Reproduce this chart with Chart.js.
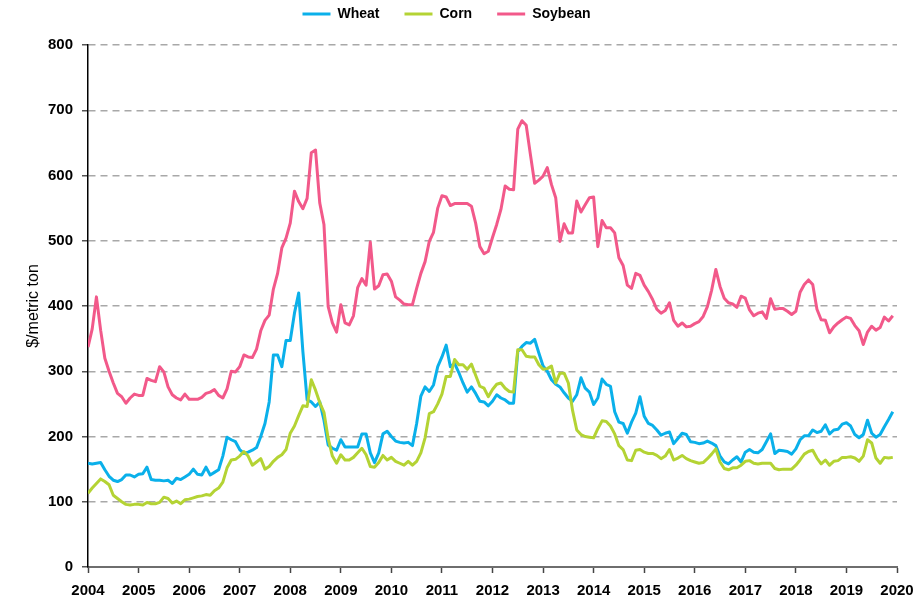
<!DOCTYPE html>
<html>
<head>
<meta charset="utf-8">
<script src="https://cdn.jsdelivr.net/npm/chart.js@4.4.1/dist/chart.umd.min.js"></script>
<style>
html,body{margin:0;padding:0;background:#fff;overflow:hidden}
#wrap{width:918px;height:601px;position:relative}
</style>
</head>
<body>
<div id="wrap"><canvas id="c" width="918" height="601"></canvas></div>
<script>
// ---- data (monthly, Jan 2004 - Dec 2019), $/metric ton ----
const startYear = 2004;
const endYear = 2020;
const seriesNames = ["Wheat", "Corn", "Soybean"];
const yTicks = [0, 100, 200, 300, 400, 500, 600, 700, 800];

const wheat = [
  159,158,159,160,149,139,133,131,134,141,141,138,
  142,143,153,134,133,133,132,133,128,136,134,138,
  142,150,142,141,153,141,145,149,170,199,195,192,
  180,174,176,179,183,200,220,253,325,325,307,347,
  347,389,420,330,256,253,246,253,225,187,182,179,
  195,184,184,184,184,204,204,175,160,175,204,208,
  200,193,191,190,191,186,220,262,276,269,279,307,
  322,340,307,312,298,282,268,276,266,254,253,247,
  254,264,259,256,251,251,330,338,344,343,349,328,
  308,300,287,280,276,267,259,254,264,290,274,268,
  249,259,288,280,277,238,222,220,205,222,236,261,
  231,220,217,210,202,205,207,189,197,205,203,192,
  191,189,190,193,190,186,170,161,158,164,169,161,
  176,180,176,175,180,192,204,174,179,178,177,173,
  181,195,201,201,210,206,208,218,204,210,211,219,
  221,216,203,198,203,225,205,199,203,215,226,238
];

const corn = [
  113,121,128,135,131,126,110,105,100,96,95,96,
  96,95,99,97,97,99,107,105,98,101,97,103,
  104,106,108,109,111,110,117,121,130,152,164,165,
  170,177,170,156,161,166,150,154,162,168,172,180,
  205,216,232,247,246,287,271,252,237,197,170,159,
  172,164,164,168,175,182,172,154,153,160,171,164,
  168,162,159,156,162,156,162,175,198,235,238,250,
  265,292,292,318,310,310,303,311,294,277,274,261,
  272,280,282,274,269,268,333,333,323,322,322,310,
  303,304,308,282,297,297,282,240,210,203,200,199,
  198,212,224,223,216,204,186,180,164,163,179,180,
  176,174,174,171,166,170,180,164,167,171,166,163,
  161,159,160,166,173,181,161,151,149,152,152,156,
  162,163,159,158,159,159,159,151,149,150,150,150,
  156,164,173,177,179,167,158,164,156,162,163,168,
  168,169,167,162,170,195,190,167,159,168,167,168
];

const soybean = [
  337,365,414,363,320,300,282,266,261,251,259,265,
  263,263,289,286,284,307,299,276,264,259,256,265,
  257,257,257,260,266,268,272,263,259,273,300,299,
  307,325,322,321,334,362,378,386,426,450,489,504,
  527,576,560,549,565,635,639,558,525,399,374,360,
  402,374,371,385,428,442,432,498,426,431,448,449,
  438,414,409,403,402,402,427,450,468,499,513,550,
  569,567,554,557,557,557,557,553,527,491,480,484,
  505,525,548,584,579,578,671,684,677,632,588,593,
  599,612,586,566,499,526,512,512,561,544,555,566,
  567,491,531,520,520,512,474,462,432,427,450,447,
  432,422,410,395,389,393,405,378,369,374,368,369,
  373,376,384,399,424,456,430,412,405,403,398,415,
  412,394,385,389,391,381,411,395,396,396,392,387,
  392,421,433,440,433,395,379,378,359,368,374,379,
  383,381,370,362,341,360,369,363,367,383,377,385
];

// month categories "YYYY-MM"
const months = [];
for (let y = startYear; y < endYear; y++) {
  for (let m = 1; m <= 12; m++) months.push(y + "-" + String(m).padStart(2, "0"));
}
const monthToX = s => Number(s.slice(0, 4)) + (Number(s.slice(5, 7)) - 1) / 12;
const toPoints = arr => arr.map((v, i) => ({ x: monthToX(months[i]), y: v }));

const COLORS = { Wheat: "#0ab0ea", Corn: "#b4d334", Soybean: "#f2598a" };
const FONT = "'Liberation Sans', Arial, sans-serif";

const CHART_TOP = 45;
const legendFix = {
  id: "legendFix",
  beforeUpdate(chart) {
    const l = chart.legend;
    if (l && !l._patched) {
      const f = l.fit;
      l.fit = function () { f.call(this); this.height = CHART_TOP; };
      l._patched = true;
    }
  },
  afterLayout(chart) {
    const l = chart.legend;
    if (!l) return;
    const dx = -2, topY = -18;
    l.left += dx; l.right += dx;
    const h = l.height;
    l.top = topY; l.bottom = topY + h + 30;
  }
};

const series = [wheat, corn, soybean];
const datasets = seriesNames.map((name, k) => ({
  label: name,
  data: toPoints(series[k]),
  borderColor: COLORS[name],
  backgroundColor: COLORS[name],
  borderWidth: 3,
  pointRadius: 0,
  pointHoverRadius: 0,
  tension: 0,
  fill: false,
  borderJoinStyle: "round",
  borderCapStyle: "butt",
  order: 3 - k
}));

new Chart(document.getElementById("c"), {
  type: "line",
  data: { datasets },
  plugins: [legendFix],
  options: {
    responsive: false,
    devicePixelRatio: 1,
    animation: false,
    events: [],
    layout: { padding: { top: 0, right: 21, bottom: 0, left: 0 } },
    plugins: {
      tooltip: { enabled: false },
      legend: {
        display: true,
        position: "top",
        labels: {
          usePointStyle: true,
          pointStyle: "line",
          pointStyleWidth: 28,
          padding: 25,
          color: "#000",
          font: { family: FONT, size: 14, weight: "bold" },
          sort: (a, b) => a.datasetIndex - b.datasetIndex
        }
      }
    },
    scales: {
      x: {
        type: "linear",
        min: startYear,
        max: endYear,
        afterFit: s => { s.height = 34; s.paddingLeft = 0; s.paddingRight = 0; },
        afterBuildTicks: s => {
          const t = [];
          for (let y = startYear; y <= endYear; y++) t.push({ value: y });
          s.ticks = t;
        },
        ticks: {
          callback: v => String(v),
          autoSkip: false,
          maxRotation: 0,
          padding: 9,
          color: "#000",
          font: { family: FONT, size: 15, weight: "bold" }
        },
        grid: {
          drawOnChartArea: false,
          drawTicks: true,
          tickLength: 6,
          tickColor: "#444",
          tickWidth: 1.5
        },
        border: { display: true, color: "#6e6e6e", width: 2 }
      },
      y: {
        min: 0,
        max: 800,
        afterFit: s => { s.width = 88; s.paddingTop = 0; s.paddingBottom = 0; },
        afterBuildTicks: s => { s.ticks = yTicks.map(v => ({ value: v })); },
        ticks: {
          padding: 9,
          color: "#000",
          font: { family: FONT, size: 15, weight: "bold" }
        },
        grid: {
          color: c => (c.tick && c.tick.value === 0 ? "rgba(0,0,0,0)" : "#a8a8a8"),
          lineWidth: 1.5,
          drawTicks: true,
          tickLength: 6,
          tickColor: "#555",
          tickWidth: 1.5
        },
        border: { display: true, color: "#000", width: 1.5, dash: [7, 5] },
        title: {
          display: true,
          text: "$/metric ton",
          color: "#000",
          font: { family: FONT, size: 16 },
          padding: { top: 24, bottom: 0 }
        }
      }
    }
  }
});
</script>
</body>
</html>
